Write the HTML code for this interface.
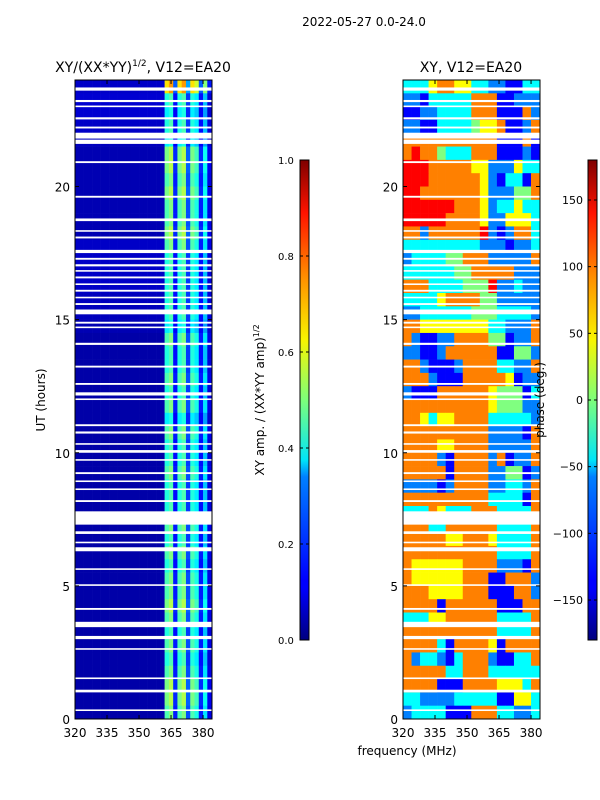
<!DOCTYPE html>
<html><head><meta charset="utf-8">
<style>
body{margin:0;background:#fff;}
svg{display:block;font-family:"DejaVu Sans","Liberation Sans",sans-serif;}
</style></head>
<body>
<svg id="chart" width="600" height="800" viewBox="0 0 600 800" xmlns="http://www.w3.org/2000/svg">
<rect width="600" height="800" fill="#fff"/>
<text x="364" y="26" font-size="12" text-anchor="middle">2022-05-27 0.0-24.0</text>
<text x="143" y="72" font-size="14" text-anchor="middle">XY/(XX*YY)<tspan dy="-6" font-size="9">1/2</tspan><tspan dy="6">, V12=EA20</tspan></text>
<text x="471" y="72" font-size="14" text-anchor="middle">XY, V12=EA20</text>
<g id="ampPanel"></g>
<g id="phasePanel"></g>
<g id="axes"></g>
<defs>
<linearGradient id="jetg" x1="0" y1="1" x2="0" y2="0">
<stop offset="0" stop-color="#00007f"/><stop offset="0.11" stop-color="#0000ff"/><stop offset="0.125" stop-color="#0000ff"/>
<stop offset="0.34" stop-color="#0080ff"/><stop offset="0.375" stop-color="#00e5f8"/><stop offset="0.5" stop-color="#7dff7a"/>
<stop offset="0.625" stop-color="#f8f500"/><stop offset="0.75" stop-color="#ff9400"/><stop offset="0.89" stop-color="#ff1300"/><stop offset="1" stop-color="#7f0000"/>
</linearGradient>
</defs>
<rect x="300" y="160" width="9" height="480" fill="url(#jetg)" stroke="#000" stroke-width="1"/>
<rect x="588" y="160" width="9" height="480" fill="url(#jetg)" stroke="#000" stroke-width="1"/>
<g id="cbticks"></g>
<text transform="translate(45,400) rotate(-90)" font-size="12" text-anchor="middle">UT (hours)</text>
<text x="407" y="755" font-size="12" text-anchor="middle">frequency (MHz)</text>
<text transform="translate(264,400) rotate(-90)" font-size="12" text-anchor="middle">XY amp. / (XX*YY amp)<tspan dy="-5" font-size="8">1/2</tspan></text>
<text transform="translate(544,400) rotate(-90)" font-size="12" text-anchor="middle">phase (deg.)</text>
</svg>
<script>
const ampColVals=[0.1,0.1,0.1,0.1,0.1,0.1,0.1,0.1,0.1,0.1,0.1,0.1,0.1,0.1,0.1,0.1,0.1,0.1,0.1,0.1,0.1,0.45,0.5,0.15,0.45,0.5,0.2,0.45,0.4,0.15,0.35,0.1];
const ampRowScale=[1.45,0.9,0.8,0.9,0.8,1.1,1.1,1.0,1.1,1.0,1.0,1.1,1.0,0.9,0.9,0.9,0.9,0.9,0.8,1.0,0.9,0.9,1.0,0.9,1.0,0.8,1.0,0.9,0.9,1.0,0.9,0.9,0.9,1.0,0.9,1.0,0.9,1.0,1.0,1.1,1.0,0.9,1.0,0.9,1.0,1.1,1.1,1.0];
const ampRowBase=[0.07,0.08,0.08,0.07,0.06,0.05,0.05,0.05,0.05,0.05,0.05,0.05,0.07,0.07,0.07,0.07,0.06,0.06,0.05,0.04,0.04,0.04,0.04,0.04,0.04,0.04,0.04,0.04,0.04,0.04,0.04,0.04,0.04,0.04,0.04,0.04,0.04,0.04,0.04,0.04,0.04,0.04,0.04,0.04,0.04,0.04,0.04,0.04];
const phaseRows=["3335665533221133","2213333366611222","1122333366611162","2211333345561126","6666666666611161","6766433366611121","7776666655222533","7776666665213316","7766666665222446","7777776665233533","7777766665225553","6626666667212663","3333333332221223","2333344666222226","3333334466666222","6663333444722322","3333566664422222","2233333344433332","6655555555332226","6211226666441226","2211266666611442","6621112666633226","6662111666665122","2111666666544413","6666666666544422","6653556666333332","6666666666222216","6666556666222226","6666216666261226","6666616666224412","2222126666223326","6666666666333316","3336533366633336","6663366666633336","6666655666533336","6666666666633336","6555555666622216","6555555666116662","6665555666111662","6666166666611166","3335566666633336","6666666666633336","6666316666516666","6233213666211336","6666633666333333","6666111666655536","3322223333311553","2333311166633223"];
const flagGaps=[[23.6,23.72],[23.17,23.25],[22.98,23.04],[22.52,22.6],[22.18,22.25],[21.8,22.02],[21.6,21.76],[20.88,20.95],[19.58,19.65],[18.7,18.8],[18.3,18.36],[18.05,18.12],[17.5,17.62],[17.25,17.32],[17.0,17.08],[16.8,16.86],[16.55,16.62],[16.3,16.36],[16.05,16.12],[15.8,15.86],[15.55,15.62],[15.2,15.38],[14.85,14.92],[14.68,14.74],[14.05,14.13],[13.2,13.27],[12.55,12.62],[12.15,12.27],[11.98,12.04],[11.0,11.07],[10.72,10.8],[10.3,10.36],[10.0,10.1],[9.7,9.76],[9.2,9.27],[8.9,8.96],[8.6,8.66],[8.15,8.22],[7.3,7.8],[6.95,7.05],[6.6,6.66],[6.3,6.45],[5.6,5.66],[5.0,5.06],[4.1,4.17],[3.45,3.65],[3.0,3.12],[2.6,2.66],[1.5,1.56],[1.0,1.1],[0.3,0.36]];
const ampTicks=[0.0,0.2,0.4,0.6,0.8,1.0];
const phaseTicks=[-150,-100,-50,0,50,100,150];
const hourTicks=[0,5,10,15,20];
const freqTicks=[320,335,350,365,380];

const NS="http://www.w3.org/2000/svg";
const yTop=80,yBot=719,fMin=320,fMax=384.2;
function yH(h){return yBot-(yBot-yTop)*h/24;}
function xF(x0,f){return x0+(f-fMin)*(137/(fMax-fMin));}
function jet(v){v=Math.max(0,Math.min(1,v));
 const r=Math.min(4*v-1.5,-4*v+4.5),g=Math.min(4*v-0.5,-4*v+3.5),b=Math.min(4*v+0.5,-4*v+2.5);
 const c=t=>Math.round(255*Math.max(0,Math.min(1,t)));return `rgb(${c(r)},${c(g)},${c(b)})`;}
function mk(tag,attrs,parent){const e=document.createElementNS(NS,tag);for(const k in attrs)e.setAttribute(k,attrs[k]);parent.appendChild(e);return e;}
const amp=document.getElementById('ampPanel'),ph=document.getElementById('phasePanel'),ax=document.getElementById('axes'),cb=document.getElementById('cbticks');
const nR=ampRowScale.length;
for(let i=0;i<nR;i++){
 const h1=24-i*0.5,h0=h1-0.5;
 for(let j=0;j<ampColVals.length;j++){
  const f0=fMin+j*2,f1=Math.min(f0+2,fMax);
  const v=j<21?ampRowBase[i]:ampColVals[j]*ampRowScale[i];
  const r=mk('rect',{x:xF(75,f0),y:yH(h1),width:xF(75,f1)-xF(75,f0)+0.3,height:yH(h0)-yH(h1)+0.3,fill:jet(v)},amp);
  
  
 }
}
for(let i=0;i<phaseRows.length;i++){
 const h1=24-i*0.5,h0=h1-0.5,row=phaseRows[i];
 for(let j=0;j<row.length;j++){
  const f0=fMin+j*4,f1=Math.min(f0+4,fMax);
  const deg=-180+Number(row[j])*45;
  const r=mk('rect',{x:xF(403,f0),y:yH(h1),width:xF(403,f1)-xF(403,f0)+0.3,height:yH(h0)-yH(h1)+0.3,fill:jet((deg+180)/360)},ph);
  
  
 }
}
for(const g of flagGaps){
 for(const x0 of [75,403]){
  const r=mk('rect',{x:x0,y:yH(g[1]),width:137,height:Math.max(1.5,yH(g[0])-yH(g[1])),fill:'#fff'},x0===75?amp:ph);
  
  
 }
}
for(const x0 of [75,403]){
 const f=mk('rect',{x:x0,y:yTop,width:137,height:yBot-yTop,fill:'none',stroke:'#000','stroke-width':1},ax);
 
 
 for(const h of hourTicks){
  const y=yH(h);
  mk('line',{x1:x0,y1:y,x2:x0+4,y2:y,stroke:'#000'},ax);
  mk('line',{x1:x0+137,y1:y,x2:x0+133,y2:y,stroke:'#000'},ax);
  const t=mk('text',{x:x0-5,y:y+5,'font-size':12,'text-anchor':'end'},ax);t.textContent=h;
  
  
 }
 for(const fq of freqTicks){
  const x=xF(x0,fq);
  mk('line',{x1:x,y1:yBot,x2:x,y2:yBot-4,stroke:'#000'},ax);
  mk('line',{x1:x,y1:yTop,x2:x,y2:yTop+4,stroke:'#000'},ax);
  const t=mk('text',{x:x,y:737,'font-size':12,'text-anchor':'middle'},ax);t.textContent=fq;
  
  
 }
}
for(const v of ampTicks){
 const y=640-480*v;
 mk('line',{x1:300,y1:y,x2:303,y2:y,stroke:'#000'},cb);mk('line',{x1:309,y1:y,x2:306,y2:y,stroke:'#000'},cb);
 const t=mk('text',{x:278,y:y+4,'font-size':10,'text-anchor':'start'},cb);t.textContent=v.toFixed(1);
 
 
}
for(const v of phaseTicks){
 const y=640-480*(v+180)/360;
 mk('line',{x1:588,y1:y,x2:591,y2:y,stroke:'#000'},cb);mk('line',{x1:597,y1:y,x2:594,y2:y,stroke:'#000'},cb);
 const t=mk('text',{x:583,y:y+4,'font-size':11,'text-anchor':'end'},cb);t.textContent=v<0?'\u2212'+(-v):v;
 
 
}
</script>
</body></html>
